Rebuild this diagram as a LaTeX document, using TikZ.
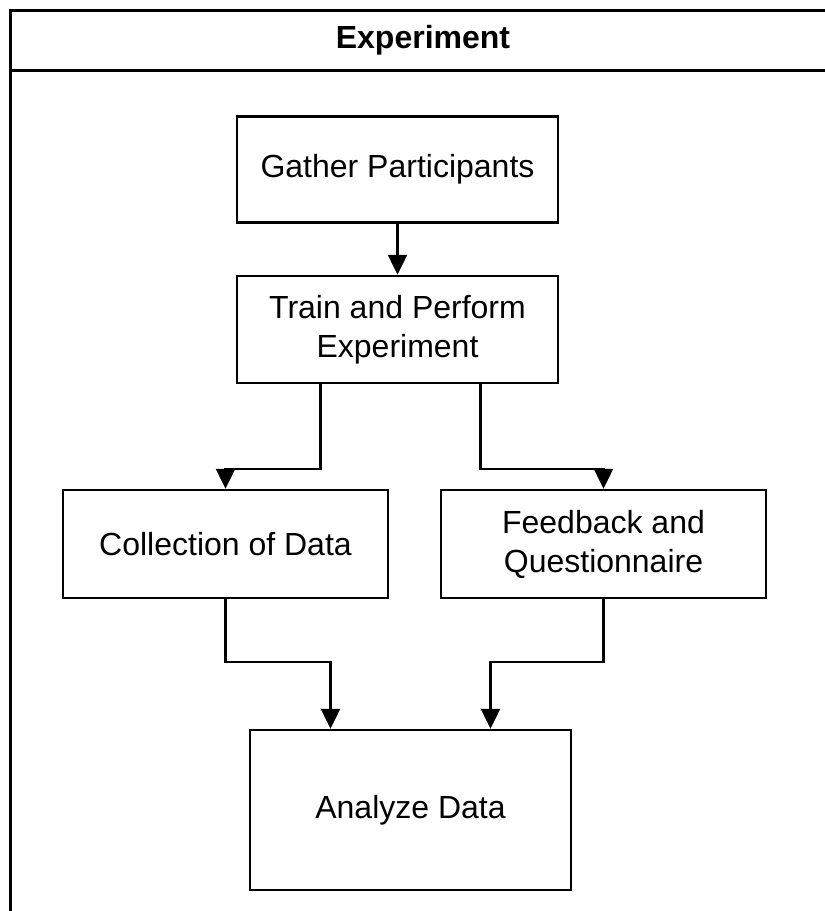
\documentclass[tikz,border=0pt]{standalone}
\usepackage{fontspec}
\setmainfont{Liberation Sans}
\usetikzlibrary{arrows.meta}
\begin{document}
\begin{tikzpicture}[x=1pt,y=-1pt,
  stepbox/.style={draw=black,line width=2.5pt,rectangle,align=center,inner sep=0pt,
    font=\fontsize{32}{39}\selectfont},
  arr/.style={draw=black,line width=2.5pt,-{Triangle[width=19pt,length=20pt]}},
  frame/.style={draw=black,line width=3pt}]
\useasboundingbox (0,0) rectangle (825,911);
\fill[white] (0,0) rectangle (825,911);
% frame
\draw[frame] (825,10) -- (10,10) -- (10,911);
\draw[frame] (10,70) -- (825,70);
\node (title) at (423,40) {\fontsize{32}{36}\selectfont\bfseries Experiment};
% boxes
\node[stepbox,minimum width=321pt,minimum height=106pt] (gather) at (397.5,169.5) {Gather Participants};
\node[stepbox,minimum width=321pt,minimum height=107pt] (train) at (397.5,329.5) {Train and Perform\\Experiment};
\node[stepbox,minimum width=325pt,minimum height=108pt] (coll) at (225.5,544) {Collection of Data};
\node[stepbox,minimum width=325pt,minimum height=108pt] (feed) at (603.5,544) {Feedback and\\Questionnaire};
\node[stepbox,minimum width=321pt,minimum height=160pt] (analyze) at (410.5,810) {Analyze Data};
% connectors
\draw[arr] (gather.south) -- (train.north);
\draw[arr] ([xshift=-77pt]train.south) |- ([yshift=20pt]coll.north) -- (coll.north);
\draw[arr] ([xshift=83pt]train.south) |- ([yshift=20pt]feed.north) -- (feed.north);
\draw[arr] (coll.south) |- ([xshift=-80pt,yshift=67pt]analyze.north) -- ([xshift=-80pt]analyze.north);
\draw[arr] (feed.south) |- ([xshift=80pt,yshift=67pt]analyze.north) -- ([xshift=80pt]analyze.north);
\end{tikzpicture}
\end{document}
